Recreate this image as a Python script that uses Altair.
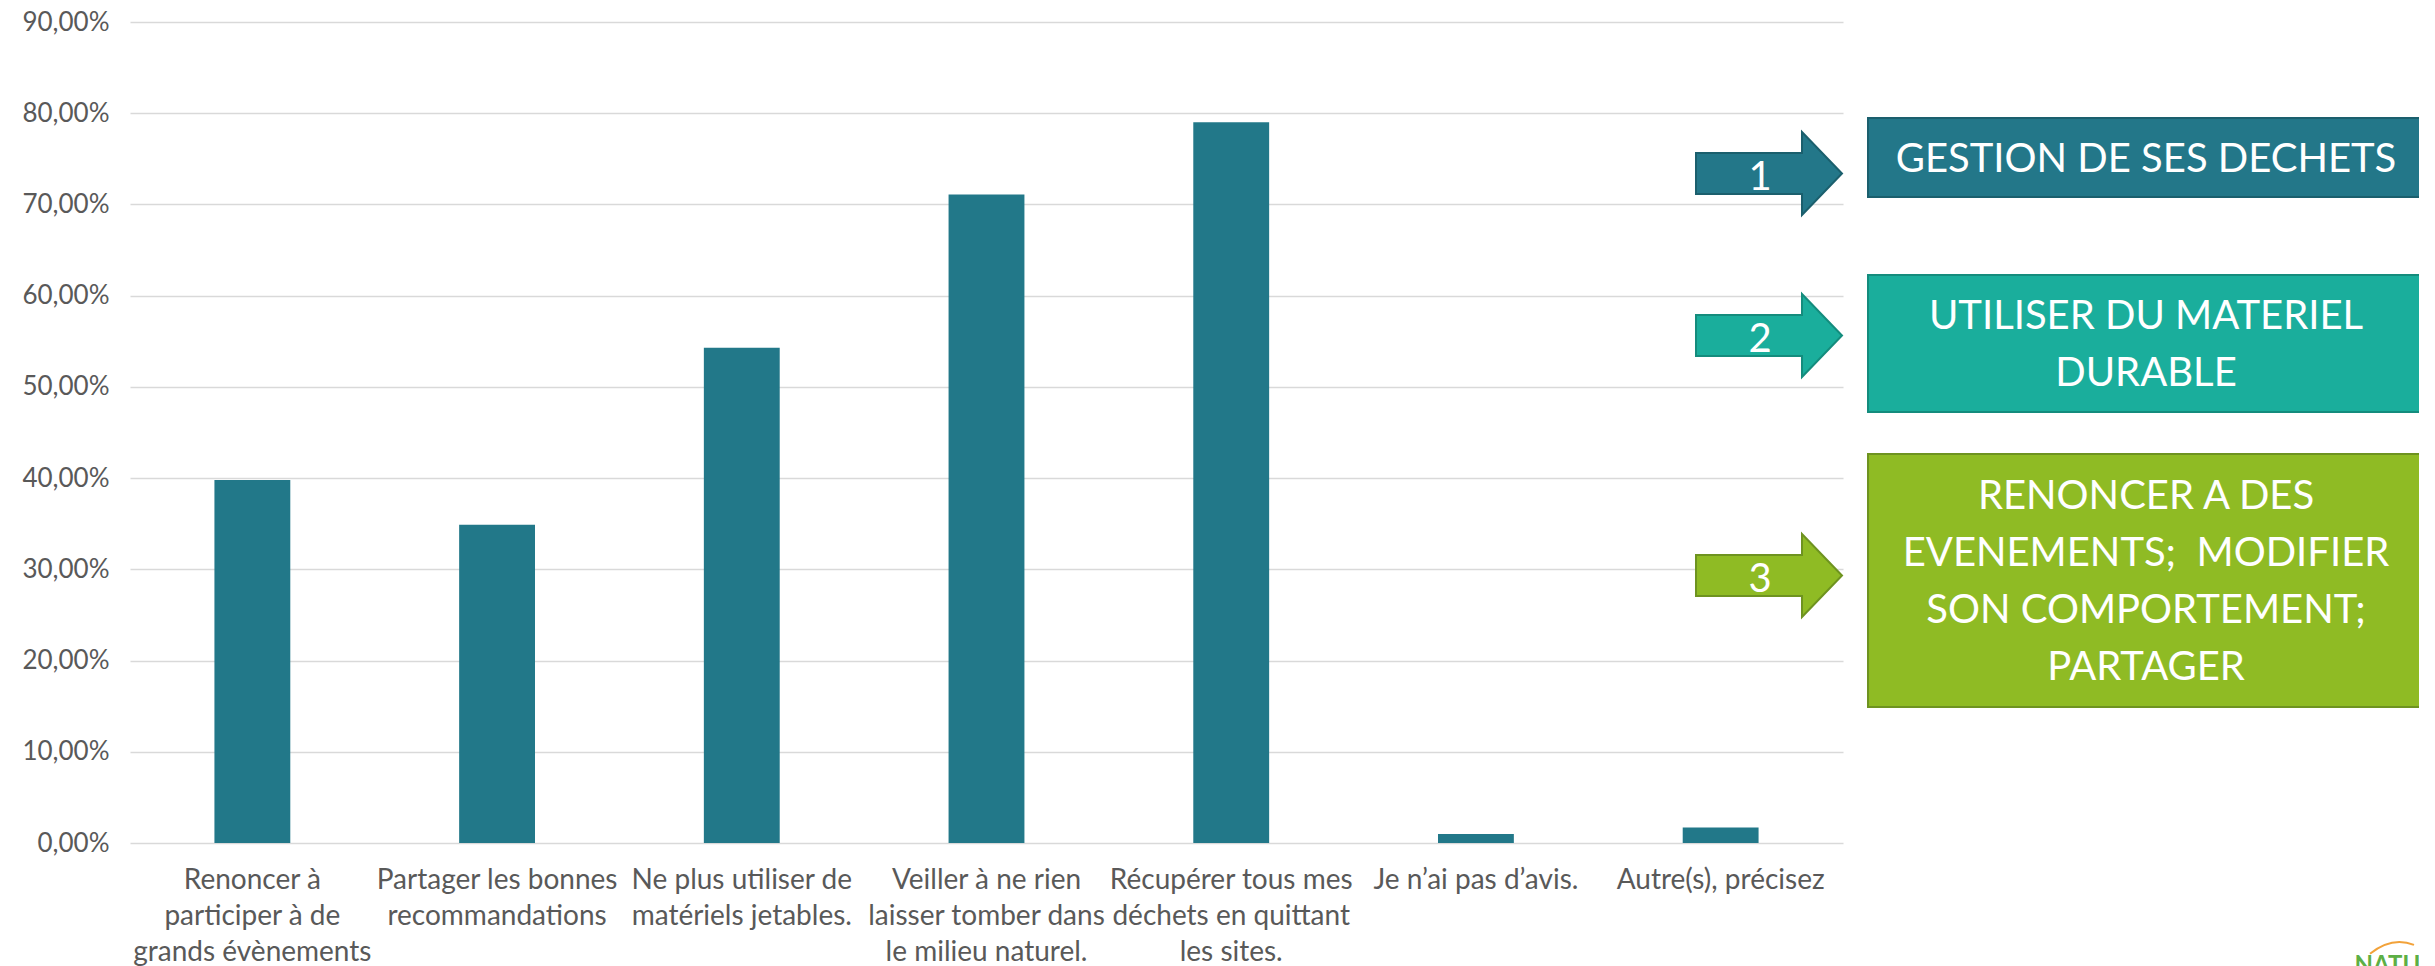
import altair as alt
import pandas as pd

# ---------------- data ----------------
categories = [
    "Renoncer à|participer à de|grands évènements",
    "Partager les bonnes|recommandations",
    "Ne plus utiliser de|matériels jetables.",
    "Veiller à ne rien|laisser tomber dans|le milieu naturel.",
    "Récupérer tous mes|déchets en quittant|les sites.",
    "Je n’ai pas d’avis.",
    "Autre(s), précisez",
]
values = [0.398, 0.349, 0.543, 0.711, 0.790, 0.010, 0.017]
y_ticks = [0.0, 0.1, 0.2, 0.3, 0.4, 0.5, 0.6, 0.7, 0.8, 0.9]

arrow_numbers = ["1", "2", "3"]
box_texts = [
    ["GESTION DE SES DECHETS"],
    ["UTILISER DU MATERIEL", "DURABLE"],
    ["RENONCER A DES", "EVENEMENTS;\u00a0 MODIFIER", "SON COMPORTEMENT;", "PARTAGER"],
]
box_fill = ["#237789", "#1AAE9C", "#8FBB24"]
box_stroke = ["#1B5F6D", "#148C7D", "#6E9320"]
logo_text = ["NATURE"]

# ---------------- layout (reference pixel frame) ----------------
PLOT_L, PLOT_R, PLOT_T, PLOT_B = 130, 1843, 22, 843
BOX_X0, BOX_X1 = 1868, 2424
BOX_Y = [(118, 197), (275, 412), (454, 707)]
ARROW_CX = 1769
ARROW_CY = [173.5, 335.5, 575.5]
ARROW_W = 146
NUM_X = 1760
LINE_STEP = 57
FONT = "Lato"
bar_color = "#227889"

W = PLOT_R - PLOT_L
H = PLOT_B - PLOT_T

df = pd.DataFrame({"cat": categories, "val": values})

bars = alt.Chart(df).mark_bar(color=bar_color).encode(
    x=alt.X(
        "cat:N",
        sort=categories,
        scale=alt.Scale(paddingInner=0.69, paddingOuter=0.345),
        axis=alt.Axis(
            title=None,
            labelExpr="split(datum.label, '|')",
            labelAngle=0,
            labelLineHeight=36,
            labelPadding=23,
            labelFontSize=28,
            labelFont=FONT,
            labelColor="#595959",
            labelLimit=500,
            labelOverlap=False,
            domain=False,
            ticks=False,
            grid=False,
        ),
    ),
    y=alt.Y(
        "val:Q",
        scale=alt.Scale(domain=[0, 0.9], nice=False),
        axis=alt.Axis(
            title=None,
            values=y_ticks,
            labelExpr="replace(format(datum.value, '.2%'), '.', ',')",
            labelFontSize=26,
            labelFont=FONT,
            labelColor="#595959",
            labelPadding=21,
            domain=False,
            ticks=False,
            tickSize=0,
            grid=True,
            gridColor="#D9D9D9",
            gridWidth=1.5,
        ),
    ),
)

# annotation data
rect_rows, arrow_rows, num_rows, text_rows = [], [], [], []
for i in range(3):
    y0, y1 = BOX_Y[i]
    rect_rows.append({"x": BOX_X0, "x2": BOX_X1, "y": y0, "y2": y1,
                      "fill": box_fill[i], "stroke": box_stroke[i]})
    arrow_rows.append({"x": ARROW_CX, "y": ARROW_CY[i],
                       "fill": box_fill[i], "stroke": box_stroke[i]})
    num_rows.append({"x": NUM_X, "y": ARROW_CY[i] + 16, "t": arrow_numbers[i]})
    cy = (y0 + y1) / 2
    n = len(box_texts[i])
    for j, line in enumerate(box_texts[i]):
        text_rows.append({"x": (BOX_X0 + BOX_X1) / 2,
                          "y": cy + (j - (n - 1) / 2) * LINE_STEP + 14,
                          "t": line})

xs = alt.Scale(domain=[PLOT_L, PLOT_R], nice=False, zero=False)
ys = alt.Scale(domain=[PLOT_T, PLOT_B], reverse=True, nice=False, zero=False)

rects = alt.Chart(pd.DataFrame(rect_rows)).mark_rect(strokeWidth=2).encode(
    x=alt.X("x:Q", scale=xs, axis=None),
    x2="x2:Q",
    y=alt.Y("y:Q", scale=ys, axis=None),
    y2="y2:Q",
    fill=alt.Fill("fill:N", scale=None),
    stroke=alt.Stroke("stroke:N", scale=None),
)

hh = 41.5 / (ARROW_W / 2)
sh = 20.5 / (ARROW_W / 2)
hx = (1802 - ARROW_CX) / (ARROW_W / 2)
arrow_path = (f"M-1,{-sh:.3f}L{hx:.3f},{-sh:.3f}L{hx:.3f},{-hh:.3f}L1,0"
              f"L{hx:.3f},{hh:.3f}L{hx:.3f},{sh:.3f}L-1,{sh:.3f}Z")

arrows = alt.Chart(pd.DataFrame(arrow_rows)).mark_point(
    shape=arrow_path, size=ARROW_W * ARROW_W, filled=True, strokeWidth=2, opacity=1
).encode(
    x=alt.X("x:Q", scale=xs, axis=None),
    y=alt.Y("y:Q", scale=ys, axis=None),
    fill=alt.Fill("fill:N", scale=None),
    stroke=alt.Stroke("stroke:N", scale=None),
)

nums = alt.Chart(pd.DataFrame(num_rows)).mark_text(
    font=FONT, fontSize=40, color="white", align="center", baseline="alphabetic"
).encode(
    x=alt.X("x:Q", scale=xs, axis=None),
    y=alt.Y("y:Q", scale=ys, axis=None),
    text="t:N",
)

texts = alt.Chart(pd.DataFrame(text_rows)).mark_text(
    font=FONT, fontSize=40, color="white", align="center", baseline="alphabetic"
).encode(
    x=alt.X("x:Q", scale=xs, axis=None),
    y=alt.Y("y:Q", scale=ys, axis=None),
    text="t:N",
)

# small, cut-off logo in the bottom right corner
logo = alt.Chart(pd.DataFrame({"x": [2402], "y": [954], "t": logo_text})).mark_text(
    font=FONT, fontSize=24, fontWeight="bold", color="#5DAF45", align="center", baseline="top"
).encode(
    x=alt.X("x:Q", scale=xs, axis=None),
    y=alt.Y("y:Q", scale=ys, axis=None),
    text="t:N",
)
logo_arc = alt.Chart(pd.DataFrame({"x": [2392], "y": [946]})).mark_point(
    shape="M-1,0.35Q0,-0.45 1,-0.05", size=44 * 44, filled=False,
    stroke="#F2A23A", strokeWidth=2, opacity=1
).encode(
    x=alt.X("x:Q", scale=xs, axis=None),
    y=alt.Y("y:Q", scale=ys, axis=None),
)

chart = alt.layer(bars, rects, arrows, nums, texts, logo, logo_arc).resolve_scale(
    x="independent", y="independent"
).properties(
    width=W,
    height=H,
    autosize=alt.AutoSizeParams(type="none"),
    padding={"left": PLOT_L - 8, "top": PLOT_T - 8, "right": 2435 - 16 - PLOT_R, "bottom": 966 - 8 - PLOT_B + 10},
    background="white",
).configure_view(stroke=None)

chart.save("out.html", embed_options={"renderer": "svg", "actions": False})
